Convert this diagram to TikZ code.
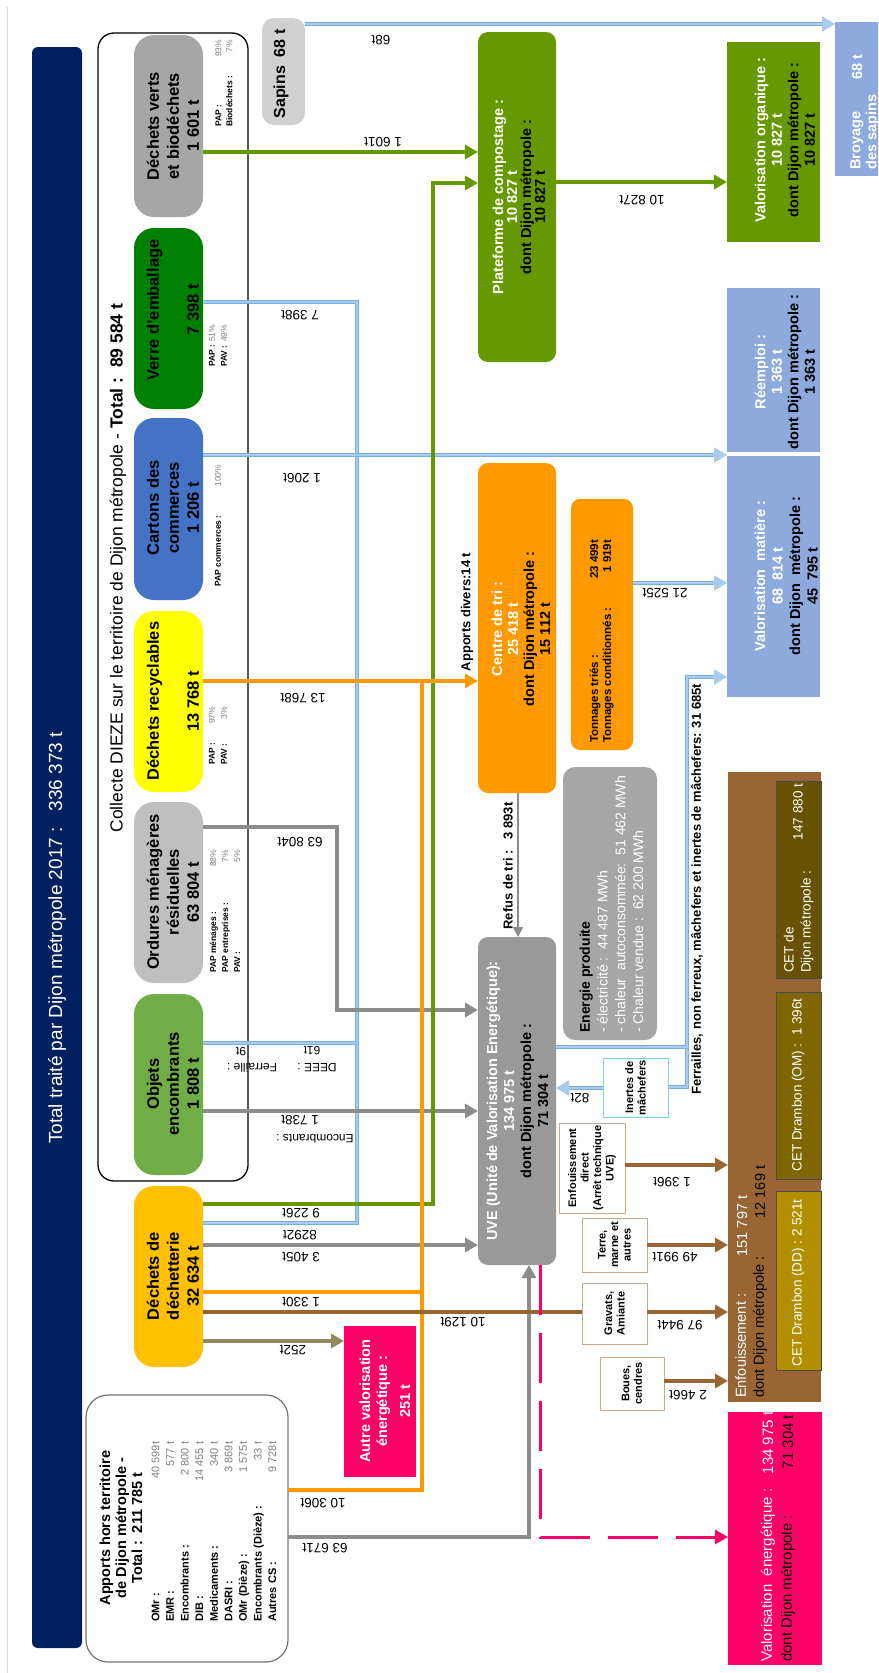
\documentclass[tikz,border=0pt]{standalone}
\usepackage{fontspec}
\setmainfont{Liberation Sans}
\usetikzlibrary{arrows.meta}
\definecolor{cnavy}{HTML}{002060}
\definecolor{cverts}{HTML}{A6A6A6}
\definecolor{cverre}{HTML}{008000}
\definecolor{ccart}{HTML}{4472C4}
\definecolor{cyel}{HTML}{FFFF00}
\definecolor{comr}{HTML}{BFBFBF}
\definecolor{cenc}{HTML}{70AD47}
\definecolor{cdech}{HTML}{FFC000}
\definecolor{csap}{HTML}{D0D0D0}
\definecolor{ccomp}{HTML}{669900}
\definecolor{corange}{HTML}{FF9900}
\definecolor{cuve}{HTML}{999999}
\definecolor{cener}{HTML}{A6A6A6}
\definecolor{cbg}{HTML}{8EA9DB}
\definecolor{cbrown}{HTML}{996633}
\definecolor{ccetA}{HTML}{665200}
\definecolor{ccetB}{HTML}{806600}
\definecolor{ccetC}{HTML}{B38F00}
\definecolor{cpink}{HTML}{FF0066}
\definecolor{cblue}{HTML}{A9CCEE}
\definecolor{cblueedge}{HTML}{7AAEE0}
\definecolor{cgray}{HTML}{8C8C8C}
\definecolor{colive}{HTML}{8F8B5F}
\definecolor{ctan}{HTML}{C8A888}
\definecolor{cinert}{HTML}{7FCFEF}
\definecolor{cpct}{HTML}{7F7F7F}
\newcommand{\FS}[2]{\fontsize{#1}{#2}\selectfont}
\newcommand{\pctv}[1]{\textcolor{cpct}{\mdseries #1}}
\newcommand{\mkbox}[7]{\node[rb,#6,minimum width={(#5)-(#3)},minimum height={(#4)-(#2)}] (#1) at ({((#2)+(#4))/2},{((#3)+(#5))/2}) {#7};}
\begin{document}
\begin{tikzpicture}[x=1pt,y=-1pt,
 rb/.style={rotate=90,inner sep=0pt,outer sep=0pt},
 tx/.style={rotate=90,inner sep=0pt,align=center},
 nt/.style={rotate=90,inner sep=0pt,align=left,anchor=west},
 lbl/.style={rotate=180,inner sep=0pt,font=\FS{13.5}{15}},
 ar/.style={-{Triangle[length=13pt,width=14pt]}},
 fb/.style={preaction={draw=cblueedge,line width=4.4pt},draw=cblue,line width=2.4pt},
 fg/.style={draw=cgray,line width=3.2pt},
 fgr/.style={draw=ccomp,line width=3.2pt},
 fo/.style={draw=corange,line width=3.2pt},
 fbr/.style={draw=cbrown,line width=3.2pt},
 fol/.style={draw=colive,line width=3.2pt},
 fpk/.style={draw=cpink,line width=3pt,dash pattern=on 50pt off 18pt},
 coll/.style={fill=#1,rounded corners=20pt},
 colltxt/.style={tx,font=\bfseries\FS{16.5}{20}},
 smallbox/.style={fill=white,draw=ctan,line width=1pt,align=center,font=\bfseries\FS{11}{12.5}},
 boxtxt/.style={tx,font=\bfseries\FS{14.5}{16.5}},
 cettxt/.style={tx,text=white,font=\FS{13.5}{17}},
]
\useasboundingbox (0,0) rectangle (878,1673);
\clip (0,0) rectangle (878,1673);
\fill[white] (0,0) rectangle (878,1673);
\draw[black!15,line width=1pt] (7,7) -- (7,1673);

% title
\mkbox{title}{32}{47}{82}{1648}{fill=cnavy,rounded corners=6pt}{}
\node[tx,text=white,font=\FS{19}{22}] (titletxt) at (57,938) {Total traité par Dijon métropole 2017 :\ \ \ 336 373 t};

% collecte frame
\mkbox{frame}{98}{33}{248}{1181}{draw=black,line width=1.3pt,rounded corners=16pt}{}
\node[tx,font=\FS{17.5}{20}] (coltxt) at (118,568) {Collecte DIEZE sur le territoire de Dijon métropole - \textbf{Total :\ \ 89 584 t}};

% collection boxes
\mkbox{verts}{134}{35}{203}{217}{coll=cverts}{}
\node[colltxt] (vertstxt) at (173,126) {Déchets verts\\et biodéchets\\1 601 t};
\mkbox{verre}{134}{228}{203}{409}{coll=cverre}{}
\node[colltxt] (verretxt) at (173,310) {Verre d'emballage\\[20pt]7 398 t};
\mkbox{cartons}{134}{418}{203}{600}{coll=ccart}{}
\node[colltxt] (cartonstxt) at (173,508) {Cartons des\\commerces\\1 206 t};
\mkbox{recyc}{134}{611}{203}{792}{coll=cyel}{}
\node[colltxt] (recyctxt) at (173,701) {Déchets recyclables\\[20pt]13 768 t};
\mkbox{omr}{134}{802}{203}{983}{coll=comr}{}
\node[colltxt] (omrtxt) at (173,892) {Ordures ménagères\\résiduelles\\63 804 t};
\mkbox{encomb}{134}{994}{203}{1175}{coll=cenc}{}
\node[colltxt] (encombtxt) at (173,1084) {Objets\\encombrants\\1 808 t};
\mkbox{dechet}{134}{1186}{203}{1367}{coll=cdech}{}
\node[colltxt] (dechettxt) at (173,1276) {Déchets de\\déchetterie\\32 634 t};

% notes
\node[nt,font=\bfseries\FS{8.5}{11}] (nverts) at (224,127) {\makebox[87pt]{PAP :\hfill\pctv{93\%}}\\\makebox[87pt]{Biodéchets :\hfill\pctv{7\%}}};
\node[nt,font=\bfseries\FS{8.5}{12}] (nverre) at (218,367) {\makebox[42pt]{PAP :\hfill\pctv{51\%}}\\\makebox[42pt]{PAV :\hfill\pctv{49\%}}};
\node[nt,font=\bfseries\FS{8.5}{12}] (ncartons) at (218,587) {\makebox[122pt]{PAP commerces :\hfill\pctv{100\%}}};
\node[nt,font=\bfseries\FS{8.5}{12}] (nrecyc) at (218,765) {\makebox[58pt]{PAP :\hfill\pctv{97\%}}\\\makebox[58pt]{PAV :\hfill\pctv{3\%}}};
\node[nt,font=\bfseries\FS{8.5}{12}] (nomr) at (225,973) {\makebox[123pt]{PAP ménages :\hfill\pctv{88\%}}\\\makebox[123pt]{PAP entreprises :\hfill\pctv{7\%}}\\\makebox[123pt]{PAV :\hfill\pctv{5\%}}};

% sapins / broyage
\mkbox{sapins}{262}{18}{305}{125}{fill=csap,rounded corners=12pt}{}
\node[tx,font=\bfseries\FS{16}{18}] (sapinstxt) at (281,74) {Sapins\ \ 68 t};
\mkbox{broyage}{835}{22}{900}{176}{fill=cbg}{}
\node[nt,text=white,font=\bfseries\FS{14.5}{16}] (broytxt) at (865,170) {Broyage\\des sapins};
\node[tx,text=white,font=\bfseries\FS{14.5}{16}] (broynum) at (857,67) {68 t};

% compost & valorisation organique
\mkbox{compost}{478}{32}{556}{362}{fill=ccomp,rounded corners=10pt}{}
\node[tx,font=\bfseries\FS{14.5}{14}] (comptxt) at (519,197) {\textcolor{white}{Plateforme de compostage :}\\\textcolor{white}{10 827 t}\\dont Dijon métropole :\\10 827 t};
\mkbox{valorg}{727}{42}{820}{242}{fill=ccomp}{}
\node[boxtxt] (valorgtxt) at (785,140) {\textcolor{white}{Valorisation organique :}\\\textcolor{white}{10 827 t}\\dont Dijon métropole :\\10 827 t};
\mkbox{reemploi}{727}{288}{820}{452}{fill=cbg}{}
\node[boxtxt] (reemtxt) at (785,372) {\textcolor{white}{Réemploi :}\\\textcolor{white}{1 363 t}\\dont Dijon métropole :\\1 363 t};
\mkbox{valmat}{727}{456}{820}{697}{fill=cbg}{}
\node[tx,font=\bfseries\FS{14.5}{17.5}] (valmattxt) at (786,576) {\textcolor{white}{Valorisation\ \ matière :}\\\textcolor{white}{68\ \ 814 t}\\dont Dijon\ \ métropole :\\45\ \ 795 t};

% enfouissement
\mkbox{enfouis}{728}{772}{821}{1402}{fill=cbrown}{}
\mkbox{cetA}{776}{781}{821}{978}{fill=ccetA,draw=black!70,line width=0.8pt}{}
\mkbox{cetB}{776}{992}{821}{1179}{fill=ccetB,draw=black!70,line width=0.8pt}{}
\mkbox{cetC}{776}{1191}{821}{1370}{fill=ccetC,draw=black!70,line width=0.8pt}{}
\node[nt,font=\FS{14.5}{18}] (enftxt) at (751,1398) {\textcolor{white}{Enfouissement :}\\dont Dijon métropole :};
\node[tx,text=white,font=\FS{14.5}{18}] (enfnA) at (742,1226) {151 797 t};
\node[tx,font=\FS{14.5}{18}] (enfnB) at (760,1192) {12 169 t};
\node[cettxt,align=left,anchor=west] (cetAtxt) at (798.5,973) {CET de\\Dijon métropole :};
\node[cettxt] (cetAnum) at (798,812) {147 880 t};
\node[cettxt] (cetBtxt) at (798,1085) {CET Drambon (OM) :\ \ 1 396t};
\node[cettxt] (cetCtxt) at (798,1283) {CET Drambon (DD) : 2 521t};

% valorisation energetique
\mkbox{valener}{728}{1412}{822}{1665}{fill=cpink}{}
\node[nt,font=\FS{15}{20}] (valenertxt) at (778,1662) {\textcolor{white}{Valorisation\ \ énergétique :}\\dont Dijon métropole :};
\node[tx,text=white,font=\FS{15}{20}] (valenerA) at (768,1443) {134 975 t};
\node[tx,font=\FS{15}{20}] (valenerB) at (788,1442) {71 304 t};

% centre de tri, tonnages
\mkbox{centre}{478}{463}{556}{793}{fill=corange,rounded corners=10pt}{}
\node[tx,font=\bfseries\FS{14.5}{16}] (centretxt) at (521,629) {\textcolor{white}{Centre de tri :}\\\textcolor{white}{25 418 t}\\dont Dijon métropole :\\15 112 t};
\node[tx,font=\bfseries\FS{13}{15}] (divers) at (467,612) {Apports divers:14 t};
\mkbox{tonnages}{571}{499}{633}{750}{fill=corange,rounded corners=9pt}{}
\node[nt,font=\bfseries\FS{11.5}{13}] (tontxt) at (601.5,743) {\makebox[203pt]{Tonnages triés :\hfill 23 499t}\\\makebox[203pt]{Tonnages conditionnés :\hfill 1 919t}};

% energie
\mkbox{energie}{563}{767}{657}{1040}{fill=cener,rounded corners=12pt}{}
\node[nt,font=\FS{14}{17.7}] (enertxt) at (611.5,1033) {\textbf{Energie produite}\\\textcolor{white}{- électricité :\ \ 44 487 MWh}\\\textcolor{white}{- chaleur\ \ autoconsommée:\ \ 51 462 MWh}\\\textcolor{white}{- Chaleur vendue :\ \ 62 200 MWh}};

% UVE
\mkbox{uve}{478}{937}{556}{1265}{fill=cuve,rounded corners=10pt}{}
\node[tx,font=\bfseries\FS{14.5}{17}] (uvetxt) at (517.5,1101) {\textcolor{white}{UVE (Unité de Valorisation Energétique):}\\\textcolor{white}{134 975 t}\\dont Dijon métropole :\\71 304 t};
\node[tx,font=\bfseries\FS{13}{15}] (refus) at (508,866) {Refus de tri :\ \ \ 3 893t};
\node[nt,font=\bfseries\FS{13}{15}] (ferr) at (697,1095) {Ferrailles, non ferreux, mâchefers et inertes de mâchefers: 31 685t};

% small boxes
\mkbox{inertes}{603}{1058}{668}{1117}{smallbox,draw=cinert}{Inertes de\\mâchefers}
\mkbox{enfdirect}{559}{1123}{625}{1213}{smallbox}{Enfouissement\\direct\\(Arrêt technique\\UVE)}
\mkbox{terre}{582}{1218}{647}{1272}{smallbox}{Terre,\\marne et\\autres}
\mkbox{gravats}{582}{1283}{647}{1344}{smallbox}{Gravats,\\Amiante}
\mkbox{boues}{600}{1357}{664}{1410}{smallbox}{Boues,\\cendres}

% autre valorisation
\mkbox{autreval}{344}{1326}{416}{1477}{fill=cpink}{}
\node[tx,text=white,font=\bfseries\FS{14.5}{17}] (autretxt) at (385,1401) {Autre valorisation\\énergétique :\\[6pt]251 t};

% apports hors territoire
\mkbox{apports}{86}{1395}{288}{1662}{fill=white,draw=black!55,line width=1.2pt,rounded corners=22pt}{}
\node[tx,font=\bfseries\FS{14.5}{16}] (apptxt) at (121,1528) {Apports hors territoire\\de Dijon métropole -\\Total :\ \ 211 785 t};
\node[nt,font=\bfseries\FS{11}{14.6}] (applist) at (214,1622) {\makebox[180pt]{OMr :\hfill\pctv{40 599t}}\\\makebox[180pt]{EMR :\hfill\pctv{577 t}}\\\makebox[180pt]{Encombrants :\hfill\pctv{2 800 t}}\\\makebox[180pt]{DIB :\hfill\pctv{14 455 t}}\\\makebox[180pt]{Medicaments :\hfill\pctv{340 t}}\\\makebox[180pt]{DASRI :\hfill\pctv{3 869t}}\\\makebox[180pt]{OMr (Dièze) :\hfill\pctv{1 575t}}\\\makebox[180pt]{Encombrants (Dièze) :\hfill\pctv{33 t}}\\\makebox[180pt]{Autres CS :\hfill\pctv{9 728t}}};

% ---------- connectors ----------
\coordinate (bj) at (357,455);
\coordinate (fj) at (687,677);
\coordinate (oj) at (422,681);
% light blue
\draw[fb] (verre.south |- 0,302) -| (bj);
\draw[fb] (dechet.south |- 0,1223) -| (bj);
\draw[fb] (encomb.south |- 0,1043) -- (bj |- 0,1043);
\draw[fb,ar] (cartons.south |- 0,455) -- (valmat.north |- 0,455);
\draw[fb,ar] (sapins.south |- 0,24) -- (broyage.north |- 0,24);
\draw[fb,ar] (tonnages.south |- 0,583) -- (valmat.north |- 0,583);
\draw[fb] (inertes.south |- 0,1087) -| (fj);
\draw[fb,ar] (uve.south |- 0,1047) -| (fj) -- (valmat.north |- fj);
\draw[fb,ar] (inertes.north |- 0,1088) -- (uve.south |- 0,1088);
% gray
\draw[fg,ar] (omr.south |- 0,827) -| (337,1010) -- (uve.north |- 0,1010);
\draw[fg,ar] (encomb.south |- 0,1111) -- (uve.north |- 0,1111);
\draw[fg,ar] (dechet.south |- 0,1245) -- (uve.north |- 0,1245);
\draw[fg,ar] (apports.south |- 0,1537) -| (uve.west -| 529,0);
\draw[draw=cgray,line width=2pt,-{Triangle[length=10pt,width=10pt]}] (centre.west -| 518,0) -- (uve.east -| 518,0);
% green
\draw[fgr,ar] (verts.south |- 0,152) -- (compost.north |- 0,152);
\draw[fgr,ar] (dechet.south |- 0,1204) -| (433,183) -- (compost.north |- 0,183);
\draw[fgr,ar] (compost.south |- 0,182) -- (valorg.north |- 0,182);
% orange
\draw[fo] (dechet.south |- 0,1292) -- (oj |- 0,1292);
\draw[fo] (apports.south |- 0,1490) -| (oj);
\draw[fo,ar] (recyc.south |- 0,681) -- (centre.north |- 0,681);
% brown
\draw[fbr] (dechet.south |- 0,1312) -- (gravats.north |- 0,1312);
\draw[fbr,ar] (gravats.south |- 0,1312) -- (enfouis.north |- 0,1312);
\draw[fbr,ar] (terre.south |- 0,1245) -- (enfouis.north |- 0,1245);
\draw[fbr,ar] (enfdirect.south |- 0,1165) -- (enfouis.north |- 0,1165);
\draw[fbr,ar] (boues.south |- 0,1381) -- (enfouis.north |- 0,1381);
% olive
\draw[fol,ar] (dechet.south |- 0,1341) -- (autreval.north |- 0,1341);
% pink dashed
\draw[fpk,ar] (uve.west -| 540,0) |- (valener.north |- 0,1537);

% ---------- flow labels ----------
\node[lbl] (l1) at (381,40) {68t};
\node[lbl] (l2) at (383,142) {1 601t};
\node[lbl] (l3) at (300,315) {7 398t};
\node[lbl] (l4) at (302,478) {1 206t};
\node[lbl] (l5) at (303,698) {13 768t};
\node[lbl] (l6) at (300,842) {63 804t};
\node[lbl,font=\FS{12}{14}] (l7a) at (252,1068) {Ferraille :};
\node[lbl,font=\FS{12}{14}] (l7b) at (241,1052) {9t};
\node[lbl,font=\FS{12}{14}] (l8a) at (317,1068) {DEEE :};
\node[lbl,font=\FS{12}{14}] (l8b) at (312,1051) {61t};
\node[lbl] (l9) at (300,1120) {1 738t};
\node[lbl,font=\FS{12}{14}] (l9b) at (315,1139) {Encombrants :};
\node[lbl] (l10) at (301,1213) {9 226t};
\node[lbl] (l11) at (300,1235) {8292t};
\node[lbl] (l12) at (301,1257) {3 405t};
\node[lbl] (l13) at (301,1302) {1 330t};
\node[lbl] (l14) at (463,1322) {10 129t};
\node[lbl] (l15) at (293,1350) {252t};
\node[lbl] (l16) at (323,1503) {10 306t};
\node[lbl] (l17) at (325,1548) {63 671t};
\node[lbl] (l18) at (642,200) {10 827t};
\node[lbl] (l19) at (665,593) {21 525t};
\node[lbl] (l20) at (580,1098) {82t};
\node[lbl] (l21) at (672,1182) {1 396t};
\node[lbl] (l22) at (675,1257) {49 991t};
\node[lbl] (l23) at (680,1325) {97 944t};
\node[lbl] (l24) at (688,1395) {2 466t};
\end{tikzpicture}
\end{document}
